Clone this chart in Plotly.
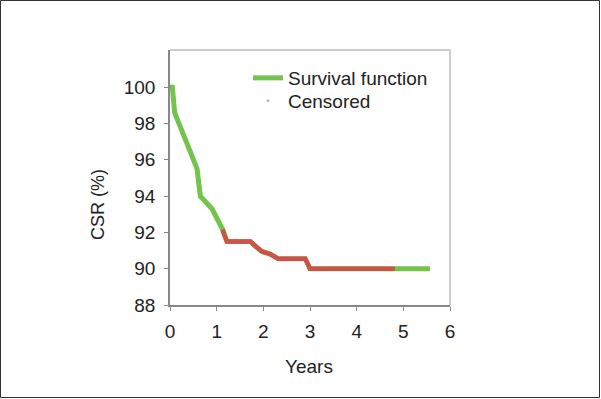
import plotly.graph_objects as go

# Survival curve (years, CSR %)
years = [0, 0.05, 0.1, 0.3, 0.58, 0.65, 0.9, 1.14, 1.22, 1.5, 1.72, 1.85, 1.97, 2.15, 2.32, 2.9, 2.97, 3.0, 4.0, 4.82, 5.57]
csr = [100, 100, 98.6, 97.3, 95.5, 94.0, 93.3, 92.1, 91.5, 91.5, 91.5, 91.2, 90.95, 90.8, 90.55, 90.55, 90.1, 90.0, 90.0, 90.0, 90.0]

# Censored segment (dense censoring marks along curve)
cens_years = [1.12, 1.22, 1.5, 1.72, 1.85, 1.97, 2.15, 2.32, 2.9, 2.97, 3.0, 4.0, 4.82]
cens_csr = [92.15, 91.5, 91.5, 91.5, 91.2, 90.95, 90.8, 90.55, 90.55, 90.1, 90.0, 90.0, 90.0]

x_ticks = [0, 1, 2, 3, 4, 5, 6]
y_ticks = [88, 90, 92, 94, 96, 98, 100]

green = "#74c34d"
red = "#d0504a"
FONT = "Liberation Sans, Arial, sans-serif"
TXT = "#222222"

fig = go.Figure()
fig.add_trace(go.Scatter(x=years, y=csr, mode="lines", name="Survival function",
                         line=dict(color=green, width=5), showlegend=True,
                         legend="legend"))
fig.add_trace(go.Scatter(x=cens_years, y=cens_csr, mode="lines", name="cens",
                         line=dict(color=red, width=4.5), showlegend=False))
fig.add_trace(go.Scatter(x=[None], y=[None], mode="markers", name="Censored",
                         marker=dict(color="#bbbbbb", size=3, symbol="circle"),
                         legend="legend2"))

W, H = 601, 399
L, R, T, B = 170, 151, 50, 94
pw, ph = W - L - R, H - T - B

def px_x(p):
    return (p - L) / pw

def px_y(p):
    return (T + ph - p) / ph

leg_common = dict(xanchor="left", yanchor="middle", bgcolor="rgba(0,0,0,0)",
                  font=dict(family=FONT, size=19, color=TXT), itemwidth=30,
                  borderwidth=0)

fig.update_layout(
    width=W, height=H,
    margin=dict(l=L, r=R, t=T, b=B),
    paper_bgcolor="white", plot_bgcolor="white",
    font=dict(family=FONT, size=19, color=TXT),
    showlegend=True,
    legend=dict(x=px_x(248), y=px_y(78), **leg_common),
    legend2=dict(x=px_x(248), y=px_y(101), **leg_common),
    xaxis=dict(range=[0, 6], tickvals=x_ticks, showgrid=False, zeroline=False,
               showline=True, linecolor="#888888", linewidth=1.5,
               ticks="outside", ticklen=4, tickcolor="#888888",
               ticklabelstandoff=4),
    yaxis=dict(range=[88, 102.05], tickvals=y_ticks, showgrid=False, zeroline=False,
               showline=True, linecolor="#888888", linewidth=1.5,
               ticks="outside", ticklen=4, tickcolor="#888888",
               ticklabelstandoff=5),
    annotations=[
        dict(text="Years", xref="paper", yref="paper", x=px_x(309),
             y=px_y(366), showarrow=False, xanchor="center",
             yanchor="middle", font=dict(family=FONT, size=19, color=TXT)),
        dict(text="CSR (%)", xref="paper", yref="paper", x=px_x(98),
             y=px_y(205), showarrow=False, xanchor="center",
             yanchor="middle", textangle=-90,
             font=dict(family=FONT, size=18, color=TXT)),
    ],
    shapes=[
        # light frame on top and right
        dict(type="line", xref="paper", yref="paper", x0=0, x1=1, y0=1, y1=1,
             line=dict(color="#bbbbbb", width=1.5)),
        dict(type="line", xref="paper", yref="paper", x0=1, x1=1, y0=0, y1=1,
             line=dict(color="#bbbbbb", width=1.5)),
        # outer image border
        dict(type="rect", xref="paper", yref="paper",
             x0=px_x(0.5), x1=px_x(W - 1.5),
             y0=px_y(H - 1.5), y1=px_y(0.5),
             line=dict(color="#333333", width=1)),
    ],
)

fig.write_html("out.html")
